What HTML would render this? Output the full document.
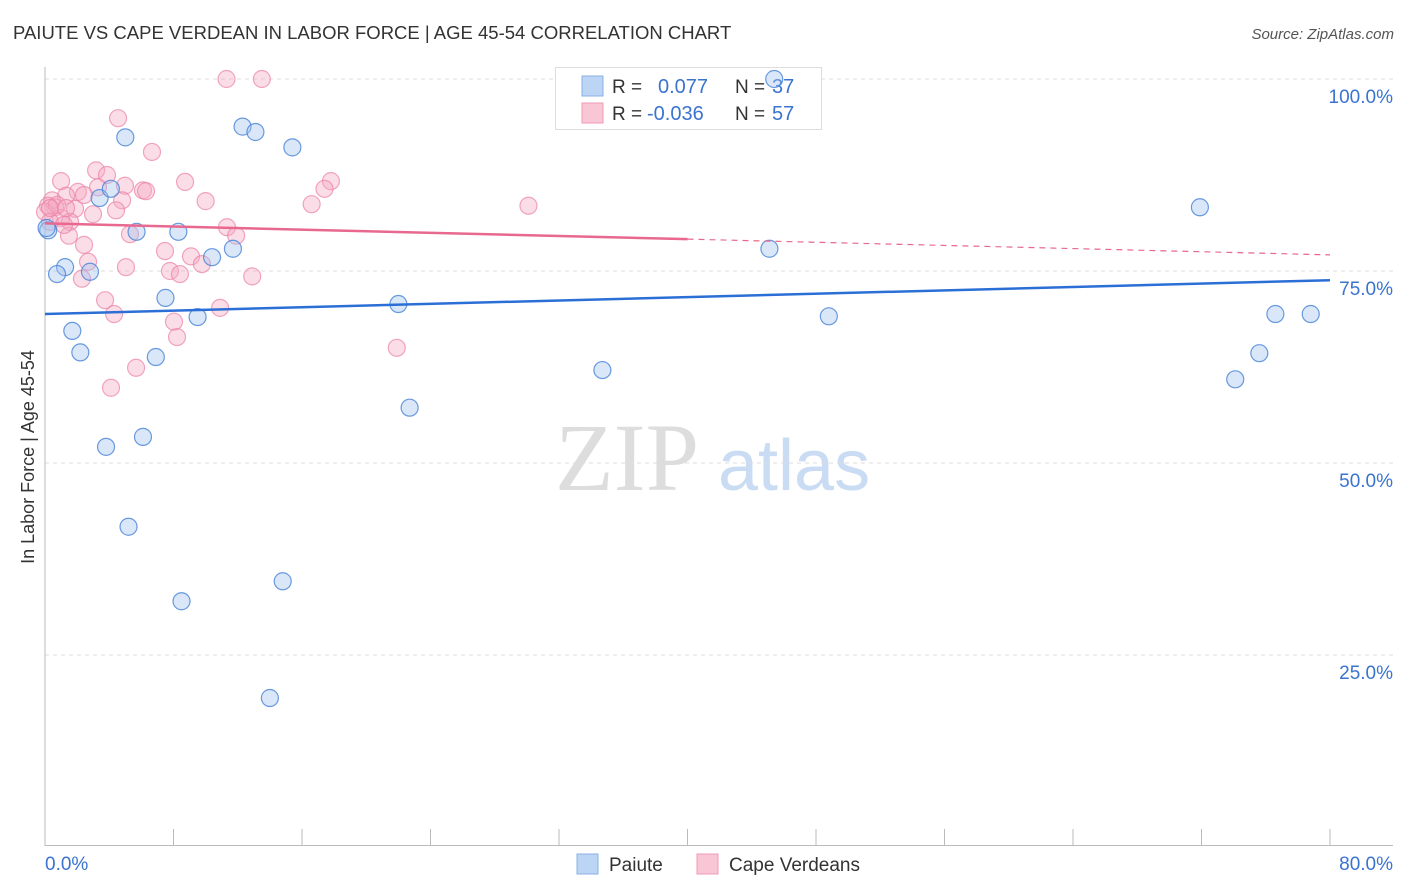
<!DOCTYPE html>
<html><head><meta charset="utf-8"><style>
body{margin:0;background:#fff;font-family:"Liberation Sans",sans-serif;}
svg{display:block}
</style></head><body>
<svg id="chart" width="1406" height="892">
<text x="13" y="39" font-size="18.5" fill="#333">PAIUTE VS CAPE VERDEAN IN LABOR FORCE | AGE 45-54 CORRELATION CHART</text>
<text x="1394" y="39" font-size="15" fill="#555" text-anchor="end" font-style="italic">Source: ZipAtlas.com</text>
<g>
<text x="555" y="490" font-size="96" font-family="Liberation Serif,serif" fill="#ddd">ZIP</text>
<text x="718" y="490" font-size="72" fill="#c9dcf3">atlas</text>
</g>
<g id="grid"></g>
<g id="axes"></g>
<g>
<rect x="555.5" y="67.5" width="266" height="62" fill="#fff" stroke="#ddd"/>
<rect x="582" y="76" width="21" height="20" fill="#bcd5f5" stroke="#8ab0e6"/>
<rect x="582" y="103" width="21" height="20" fill="#f9c6d5" stroke="#f09ab5"/>
<text x="612" y="93" font-size="19" fill="#333">R =</text><text x="658" y="93" font-size="20" fill="#3a73d0">0.077</text>
<text x="735" y="93" font-size="19" fill="#333">N =</text><text x="772" y="93" font-size="20" fill="#3a73d0">37</text>
<text x="612" y="120" font-size="19" fill="#333">R =</text><text x="647" y="120" font-size="20" fill="#3a73d0">-0.036</text>
<text x="735" y="120" font-size="19" fill="#333">N =</text><text x="772" y="120" font-size="20" fill="#3a73d0">57</text>
</g>
<g id="marks"></g>
<text transform="translate(34,457) rotate(-90)" font-size="18" fill="#333" text-anchor="middle">In Labor Force | Age 45-54</text>
<g>
<rect x="577" y="854" width="21" height="20" fill="#bcd5f5" stroke="#8ab0e6"/>
<text x="609" y="871" font-size="19" fill="#333">Paiute</text>
<rect x="697" y="854" width="21" height="20" fill="#f9c6d5" stroke="#f09ab5"/>
<text x="729" y="871" font-size="19" fill="#333">Cape Verdeans</text>
</g>
</svg>
<script>
const blueX=[45.4,5.0,12.3,13.1,15.4,3.4,4.1,71.9,5.7,8.3,11.7,10.4,45.1,1.25,0.75,2.8,7.5,22.0,9.5,48.8,76.6,78.8,1.7,2.2,6.9,75.6,34.7,74.1,22.7,6.1,3.8,5.2,14.8,8.5,14.0,0.2,0.1];
const blueY=[100,92.4,93.8,93.1,91.1,84.5,85.7,83.3,80.1,80.1,77.9,76.8,77.9,75.5,74.6,74.9,71.5,70.7,69.0,69.1,69.4,69.4,67.2,64.4,63.8,64.3,62.1,60.9,57.2,53.4,52.1,41.7,34.6,32.0,19.4,80.3,80.6];
const pinkX=[11.3,13.5,4.55,6.66,3.18,3.86,1.0,8.72,17.8,17.4,2.05,3.3,4.98,6.1,6.29,1.31,2.43,0.44,10.0,16.6,4.8,0.62,1.87,2.99,4.42,30.1,1.0,1.56,11.33,5.29,11.9,1.49,2.43,7.47,9.09,9.77,2.68,5.04,7.78,8.4,12.9,2.3,3.74,10.9,4.3,8.03,8.22,21.9,5.67,4.11,0.19,0.0,0.75,0.31,1.18,0.31,1.31];
const pinkY=[100,100,94.9,90.5,88.1,87.5,86.7,86.6,86.7,85.7,85.3,85.9,86.1,85.5,85.4,84.8,84.9,84.2,84.1,83.7,84.2,83.3,83.1,82.4,82.9,83.5,81.9,81.4,80.7,79.8,79.6,79.6,78.4,77.6,76.9,75.9,76.2,75.5,75.0,74.6,74.3,74.0,71.2,70.2,69.4,68.4,66.4,65.0,62.4,59.8,83.5,82.7,83.6,81.4,81.0,83.2,83.2];
const blueTrend=[69.4,73.8];
const pinkTrend=[81.2,77.1];
const pinkSolidEnd=40;
const yTicks=[25,50,75,100];
const xTicks=[0,8,16,24,32,40,48,56,64,72,80];
const NS="http://www.w3.org/2000/svg";
const X=v=>45+v*1285/80, Y=v=>847-v*7.68;
function mk(p,t,a){const e=document.createElementNS(NS,t);for(const k in a)e.setAttribute(k,a[k]);document.getElementById(p).appendChild(e);return e;}
yTicks.forEach(t=>{
 const g=mk('grid','line',{x1:45,x2:1393,y1:Y(t),y2:Y(t),stroke:'#ddd','stroke-dasharray':'4,4'});
 
 
 const l=mk('axes','text',{x:1393,y:Y(t)+24,'font-size':19,fill:'#3a73d0','text-anchor':'end'});
 l.textContent=t.toFixed(1)+'%';
 
 
});
const ya=mk('axes','line',{x1:45,x2:45,y1:67,y2:846,stroke:'#bbb'});


const xa=mk('axes','line',{x1:45,x2:1393,y1:845.5,y2:845.5,stroke:'#bbb'});


xTicks.forEach(t=>{
 const k=mk('axes','line',{x1:X(t),x2:X(t),y1:829,y2:845,stroke:'#bbb'});
 
 
});
[[0,'start',45],[80,'end',1393]].forEach(([t,a,px])=>{
 const l=mk('axes','text',{x:px,y:870,'font-size':19,fill:'#3a73d0','text-anchor':a});
 l.textContent=t.toFixed(1)+'%';
 
 
});
pinkX.forEach((x,i)=>{
 const c=mk('marks','circle',{cx:X(x),cy:Y(pinkY[i]),r:8.5,fill:'rgba(245,170,195,0.4)',stroke:'rgba(235,130,165,0.7)','stroke-width':1.2});
 
 
});
blueX.forEach((x,i)=>{
 const c=mk('marks','circle',{cx:X(x),cy:Y(blueY[i]),r:8.5,fill:'rgba(160,195,240,0.4)',stroke:'rgba(70,130,215,0.8)','stroke-width':1.2});
 
 
});
const pv=x=>pinkTrend[0]+(pinkTrend[1]-pinkTrend[0])*x/80;
const p1=mk('marks','line',{x1:X(0),y1:Y(pinkTrend[0]),x2:X(pinkSolidEnd),y2:Y(pv(pinkSolidEnd)),stroke:'#e8688f','stroke-width':2.5});


const p2=mk('marks','line',{x1:X(pinkSolidEnd),y1:Y(pv(pinkSolidEnd)),x2:X(80),y2:Y(pinkTrend[1]),stroke:'#e8688f','stroke-width':1.2,'stroke-dasharray':'6,5'});


const b=mk('marks','line',{x1:X(0),y1:Y(blueTrend[0]),x2:X(80),y2:Y(blueTrend[1]),stroke:'#2b6fd6','stroke-width':2.5});


</script>
</body></html>
